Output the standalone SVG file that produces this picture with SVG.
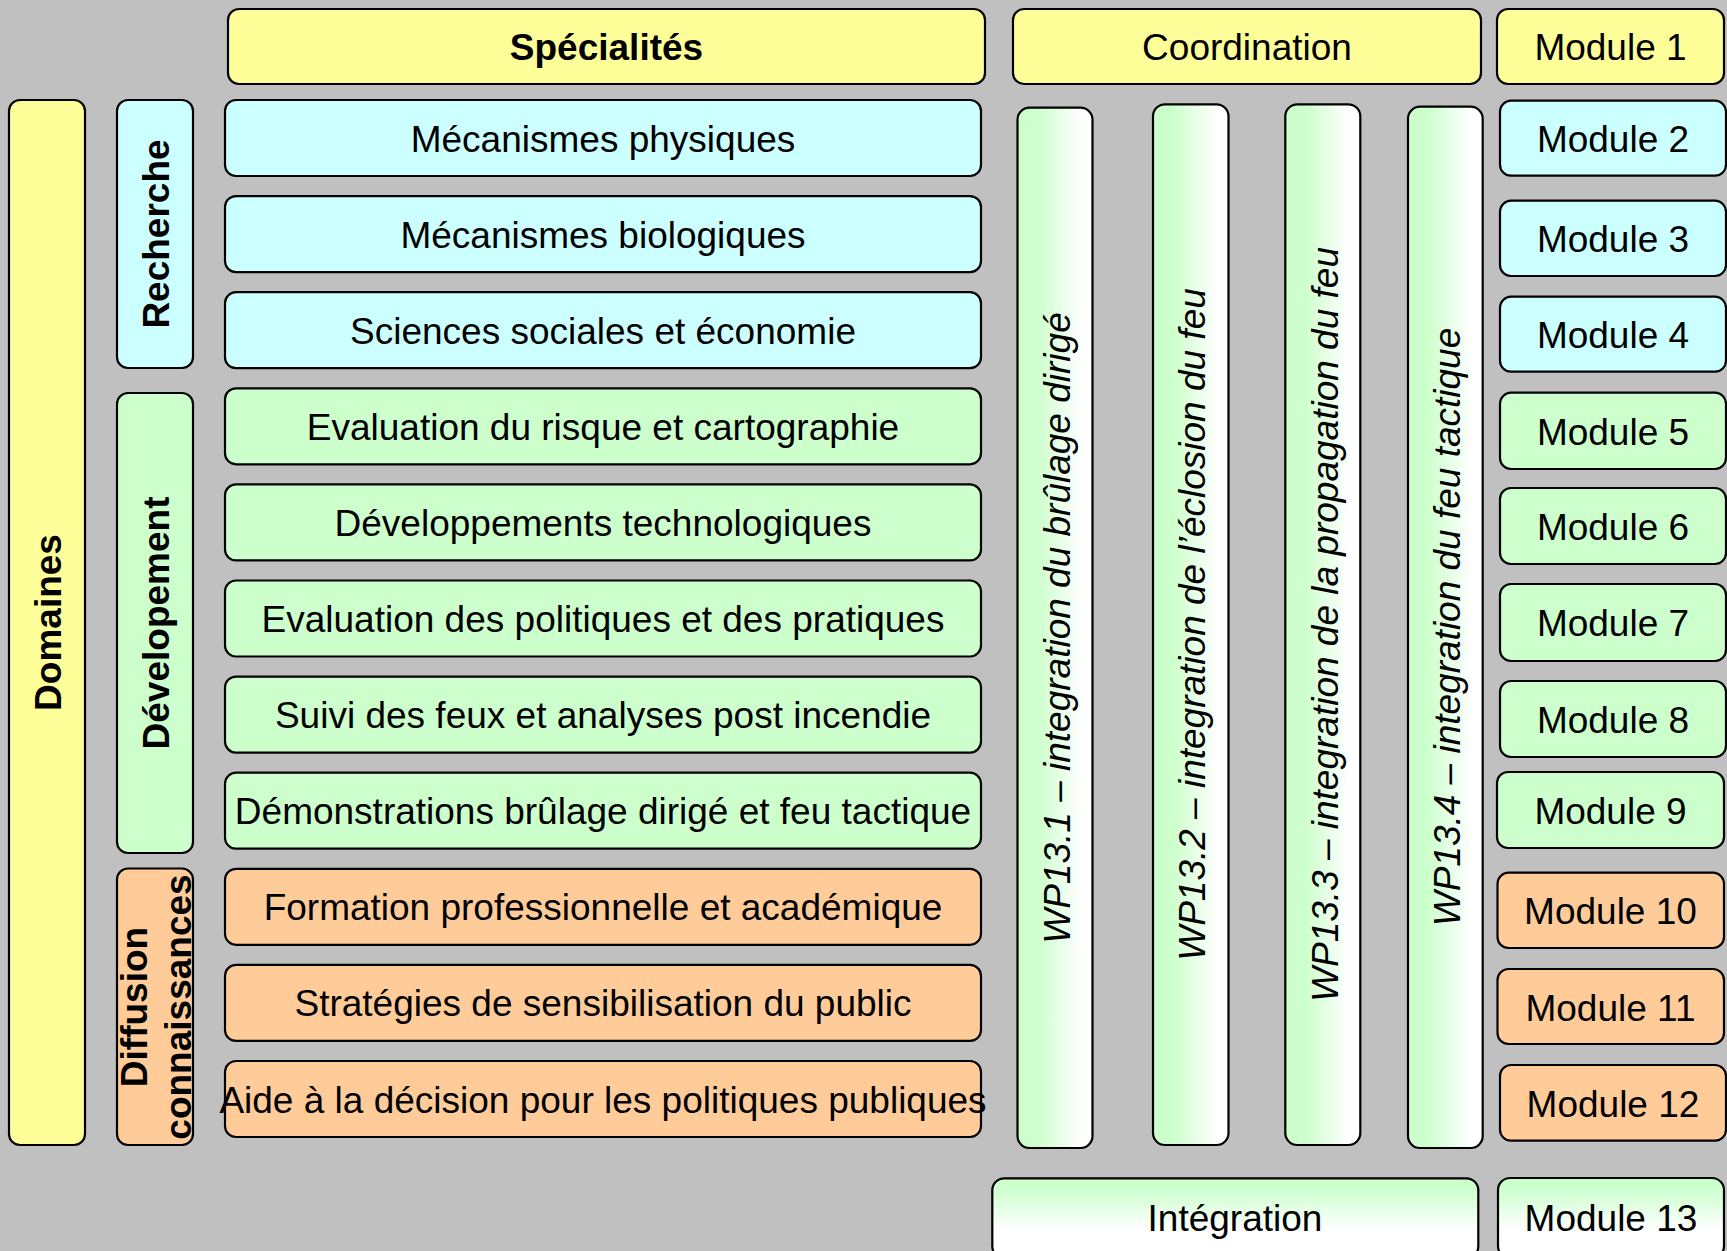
<svg xmlns="http://www.w3.org/2000/svg" width="1727" height="1251" viewBox="0 0 1727 1251">
<defs>
<linearGradient id="gH" x1="0" y1="0" x2="1" y2="0">
<stop offset="0.25" stop-color="#ccffcc"/>
<stop offset="0.85" stop-color="#ffffff"/>
</linearGradient>
<linearGradient id="gV" x1="0" y1="0" x2="0" y2="1">
<stop offset="0.12" stop-color="#ccffcc"/>
<stop offset="0.65" stop-color="#ffffff"/>
</linearGradient>
<style>
rect{stroke:#000;stroke-width:2.2}
.y{fill:#ffff99}.c{fill:#ccffff}.g{fill:#ccffcc}.o{fill:#ffcc99}.wp{fill:url(#gH)}.gv{fill:url(#gV)}
text{font-family:"Liberation Sans",Arial,sans-serif;font-size:37px;fill:#000;text-anchor:middle}
.b{font-weight:bold}.i{font-style:italic}
</style>
</defs>
<rect x="0" y="0" width="1727" height="1251" style="fill:#c0c0c0;stroke:none"/>
<g id="connectors"/>
<g id="domaines"><rect class="y" x="9" y="100" width="76" height="1045" rx="11"/><text class="b" transform="translate(60.5 622.5) rotate(-90)">Domaines</text></g>
<g id="recherche"><rect class="c" x="117" y="100" width="76" height="268" rx="11"/><text class="b" transform="translate(168.5 234) rotate(-90)">Recherche</text></g>
<g id="developement"><rect class="g" x="117" y="393" width="76" height="460" rx="11"/><text class="b" transform="translate(168.5 623) rotate(-90)">Dévelopement</text></g>
<g id="diffusion"><rect class="o" x="117" y="868.5" width="76" height="276.5" rx="11"/><text class="b" transform="translate(147 1007) rotate(-90)">Diffusion</text><text class="b" transform="translate(191 1007) rotate(-90)">connaissances</text></g>
<g id="specialites"><rect class="y" x="228" y="9" width="757" height="75" rx="11"/><text class="b" x="606.5" y="60">Spécialités</text></g>
<g id="coordination"><rect class="y" x="1013" y="9" width="468" height="75" rx="11"/><text x="1247" y="60">Coordination</text></g>
<g id="s1"><rect class="c" x="225" y="100" width="756" height="76" rx="11"/><text x="603" y="151.5">Mécanismes physiques</text></g>
<g id="s2"><rect class="c" x="225" y="196.1" width="756" height="76" rx="11"/><text x="603" y="247.6">Mécanismes biologiques</text></g>
<g id="s3"><rect class="c" x="225" y="292.2" width="756" height="76" rx="11"/><text x="603" y="343.7">Sciences sociales et économie</text></g>
<g id="s4"><rect class="g" x="225" y="388.3" width="756" height="76" rx="11"/><text x="603" y="439.8">Evaluation du risque et cartographie</text></g>
<g id="s5"><rect class="g" x="225" y="484.4" width="756" height="76" rx="11"/><text x="603" y="535.9">Développements technologiques</text></g>
<g id="s6"><rect class="g" x="225" y="580.5" width="756" height="76" rx="11"/><text x="603" y="632">Evaluation des politiques et des pratiques</text></g>
<g id="s7"><rect class="g" x="225" y="676.6" width="756" height="76" rx="11"/><text x="603" y="728.1">Suivi des feux et analyses post incendie</text></g>
<g id="s8"><rect class="g" x="225" y="772.7" width="756" height="76" rx="11"/><text x="603" y="824.2">Démonstrations brûlage dirigé et feu tactique</text></g>
<g id="s9"><rect class="o" x="225" y="868.8" width="756" height="76" rx="11"/><text x="603" y="920.3">Formation professionnelle et académique</text></g>
<g id="s10"><rect class="o" x="225" y="964.9" width="756" height="76" rx="11"/><text x="603" y="1016.4">Stratégies de sensibilisation du public</text></g>
<g id="s11"><rect class="o" x="225" y="1061" width="756" height="76" rx="11"/><text x="603" y="1112.5">Aide à la décision pour les politiques publiques</text></g>
<g id="wp1"><rect class="wp" x="1017.5" y="107.7" width="75" height="1040.3" rx="12"/><text class="i" transform="translate(1069.5 628) rotate(-90)">WP13.1 – integration du brûlage dirigé</text></g>
<g id="wp2"><rect class="wp" x="1153" y="104.3" width="75.5" height="1040.7" rx="12"/><text class="i" transform="translate(1205 624.5) rotate(-90)">WP13.2 – integration de l’éclosion du feu</text></g>
<g id="wp3"><rect class="wp" x="1285.3" y="104.3" width="75" height="1040.7" rx="12"/><text class="i" transform="translate(1337.5 624.5) rotate(-90)">WP13.3 – integration de la propagation du feu</text></g>
<g id="wp4"><rect class="wp" x="1408" y="106.7" width="74.7" height="1041.3" rx="12"/><text class="i" transform="translate(1460 627) rotate(-90)">WP13.4 – integration du feu tactique</text></g>
<g id="integration"><rect class="gv" x="992.3" y="1178.3" width="486" height="80" rx="12"/><text x="1235" y="1231">Intégration</text></g>
<g id="m1"><rect class="y" x="1497" y="9" width="227" height="75" rx="11"/><text x="1610.5" y="60">Module 1</text></g>
<g id="m2"><rect class="c" x="1500" y="100.7" width="226" height="75" rx="11"/><text x="1613" y="152">Module 2</text></g>
<g id="m3"><rect class="c" x="1500" y="200.7" width="226" height="75.3" rx="11"/><text x="1613" y="252">Module 3</text></g>
<g id="m4"><rect class="c" x="1500" y="296.7" width="226" height="75" rx="11"/><text x="1613" y="348">Module 4</text></g>
<g id="m5"><rect class="g" x="1500" y="392.7" width="226" height="76.3" rx="11"/><text x="1613" y="444.5">Module 5</text></g>
<g id="m6"><rect class="g" x="1500" y="488" width="226" height="76" rx="11"/><text x="1613" y="539.5">Module 6</text></g>
<g id="m7"><rect class="g" x="1500" y="584" width="226" height="77" rx="11"/><text x="1613" y="636">Module 7</text></g>
<g id="m8"><rect class="g" x="1500" y="681" width="226" height="76" rx="11"/><text x="1613" y="732.5">Module 8</text></g>
<g id="m9"><rect class="g" x="1497" y="772" width="227" height="76" rx="11"/><text x="1610.5" y="823.5">Module 9</text></g>
<g id="m10"><rect class="o" x="1497.5" y="872.7" width="226.5" height="75.3" rx="11"/><text x="1610.5" y="924">Module 10</text></g>
<g id="m11"><rect class="o" x="1497.5" y="969" width="226.5" height="75" rx="11"/><text x="1610.5" y="1020.5">Module 11</text></g>
<g id="m12"><rect class="o" x="1500" y="1065" width="226" height="75.7" rx="11"/><text x="1613" y="1116.5">Module 12</text></g>
<g id="m13"><rect class="gv" x="1498" y="1178" width="226" height="80" rx="12"/><text x="1611" y="1231">Module 13</text></g>
</svg>
